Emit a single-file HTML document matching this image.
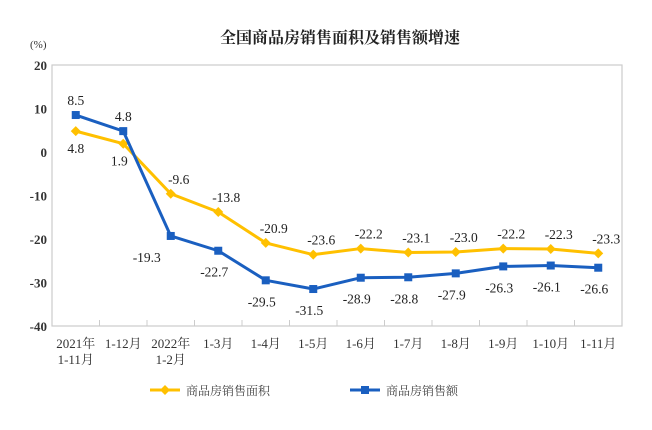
<!DOCTYPE html>
<html><head><meta charset="utf-8"><style>
body{margin:0;background:#fff;width:652px;height:425px;overflow:hidden}
svg text{font-family:"Liberation Serif","Noto Serif CJK SC",serif}
.cj{font-family:"Liberation Serif","Noto Serif CJK SC",serif}
</style></head><body>
<svg id="chart" width="652" height="425">
<text x="340" y="43" text-anchor="middle" font-size="16" font-weight="bold" class="cj" fill="#222">全国商品房销售面积及销售额增速</text>
<text x="30" y="48" font-size="11" fill="#333" class="cj">(%)</text>
<rect x="52" y="65" width="570" height="261" fill="none" stroke="#ccc" stroke-width="1.2"/>
<g id="axes"></g><g id="series"></g>
<g>
<line x1="150" y1="390" x2="180" y2="390" stroke="#FFC000" stroke-width="3"/>
<path d="M165 385 L170 390 L165 395 L160 390Z" fill="#FFC000"/>
<text x="186" y="395" font-size="12" class="cj" fill="#444">商品房销售面积</text>
<line x1="350" y1="390" x2="380" y2="390" stroke="#1a5fc0" stroke-width="3"/>
<rect x="361" y="386" width="8" height="8" fill="#1a5fc0"/>
<text x="386" y="395" font-size="12" class="cj" fill="#444">商品房销售额</text>
</g>
</svg>
<script>
const categories=[["2021年","1-11月"],["1-12月"],["2022年","1-2月"],["1-3月"],["1-4月"],["1-5月"],["1-6月"],["1-7月"],["1-8月"],["1-9月"],["1-10月"],["1-11月"]];
const areaGrowth=[4.8,1.9,-9.6,-13.8,-20.9,-23.6,-22.2,-23.1,-23.0,-22.2,-22.3,-23.3];
const amountGrowth=[8.5,4.8,-19.3,-22.7,-29.5,-31.5,-28.9,-28.8,-27.9,-26.3,-26.1,-26.6];
const yTicks=[20,10,0,-10,-20,-30,-40];
const NS="http://www.w3.org/2000/svg";
const L=52,R=622,T=65,B=326,yMax=20,yMin=-40;
const bw=(R-L)/categories.length;
const x=i=>L+bw*(i+0.5);
const y=v=>T+(yMax-v)/(yMax-yMin)*(B-T);
function mk(tag,attrs,parent,txt){const e=document.createElementNS(NS,tag);for(const k in attrs)e.setAttribute(k,attrs[k]);if(txt!=null)e.textContent=txt;parent.appendChild(e);return e;}
const ax=document.getElementById('axes'),sr=document.getElementById('series');
yTicks.forEach(v=>{const t=mk('text',{x:47,y:y(v)+5,'text-anchor':'end','font-size':13,'font-weight':'bold',fill:'#333'},ax,String(v));

});
categories.forEach((c,i)=>{
 if(i>0){const tk=mk('line',{x1:L+bw*i,x2:L+bw*i,y1:B,y2:B-6,stroke:'#ccc'},ax);
 
 }
 c.forEach((s,j)=>{const t=mk('text',{x:x(i),y:B+22+j*16,'text-anchor':'middle','font-size':13,class:'cj',fill:'#333'},ax,s);
 
 });
});
function series(vals,color,name,marker,lab){
 const pl=mk('polyline',{points:vals.map((v,i)=>x(i)+','+y(v)).join(' '),fill:'none',stroke:color,'stroke-width':3,'stroke-linejoin':'round'},sr);
 
 
 vals.forEach((v,i)=>{const cx=x(i),cy=y(v);let m;
  if(marker==='d')m=mk('path',{d:`M${cx} ${cy-5}L${cx+5} ${cy}L${cx} ${cy+5}L${cx-5} ${cy}Z`,fill:color},sr);
  else m=mk('rect',{x:cx-4,y:cy-4,width:8,height:8,fill:color},sr);
  
  
  const o=lab(i);
  const t=mk('text',{x:cx+o[0],y:cy+o[1],'text-anchor':'middle','font-size':13.5,fill:'#222'},sr,v.toFixed(1));
  
  });
}
series(areaGrowth,'#FFC000','area-growth','d',i=>i===0?[0,22]:i===1?[-4,22]:[8,-10]);
series(amountGrowth,'#1a5fc0','amount-growth','s',i=>i<2?[0,-10]:i===2?[-24,26]:[-4,26]);
</script>
</body></html>
